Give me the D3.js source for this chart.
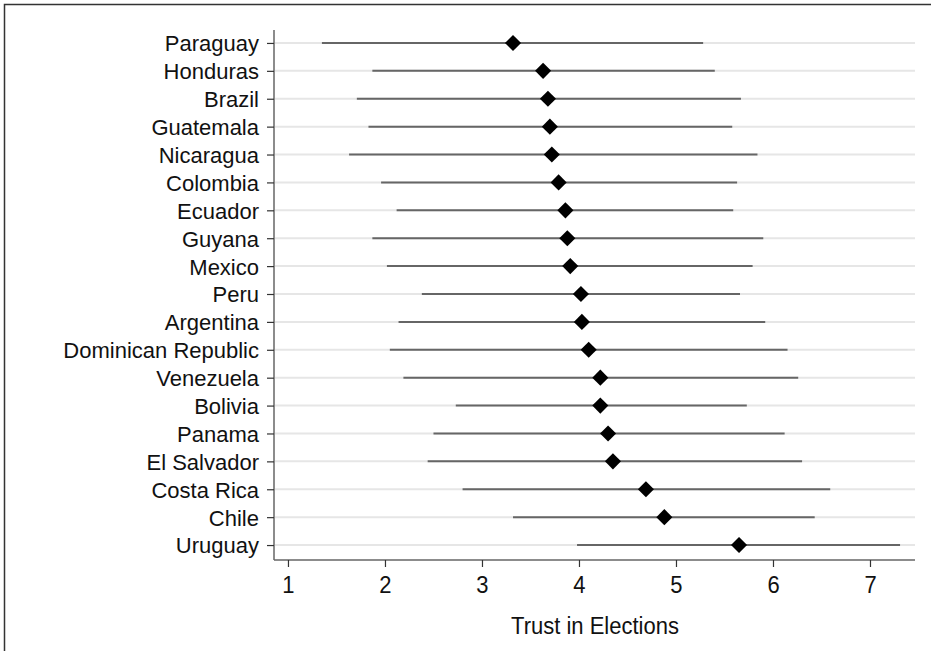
<!DOCTYPE html>
<html>
<head>
<meta charset="utf-8">
<script src="https://cdn.jsdelivr.net/npm/d3@7"></script>
<style>
  html, body { margin: 0; padding: 0; background: #fff; }
  svg { display: block; }
  text { font-family: "Liberation Sans", Arial, sans-serif; fill: #111; }
</style>
</head>
<body>
<script>
const countries = ["Paraguay","Honduras","Brazil","Guatemala","Nicaragua","Colombia","Ecuador","Guyana","Mexico","Peru","Argentina","Dominican Republic","Venezuela","Bolivia","Panama","El Salvador","Costa Rica","Chile","Uruguay"];
const means = [3.32,3.63,3.68,3.70,3.72,3.79,3.86,3.88,3.91,4.02,4.03,4.10,4.22,4.22,4.30,4.35,4.69,4.88,5.65];
const lower = [1.35,1.87,1.71,1.83,1.63,1.96,2.12,1.87,2.02,2.38,2.14,2.05,2.19,2.73,2.50,2.44,2.80,3.32,3.98];
const upper = [5.28,5.40,5.67,5.58,5.84,5.63,5.59,5.90,5.79,5.66,5.92,6.15,6.26,5.73,6.12,6.30,6.59,6.43,7.31];
const xTicks = [1,2,3,4,5,6,7];
const xTitle = "Trust in Elections";

const W = 931, H = 651;
const pL = 274, pR = 915, pT = 30, pB = 560;
const FS = 22;

const svg = d3.select("body").append("svg").attr("width", W).attr("height", H);

// outer frame (top & left visible)
svg.append("rect").attr("x", 4.5).attr("y", 4.5).attr("width", W + 10).attr("height", H + 10)
  .attr("fill", "none").attr("stroke", "#333").attr("stroke-width", 1.5);

const x = d3.scaleLinear().domain([0.856, 7.464]).range([pL, pR]);
const y = d3.scalePoint().domain(countries).range([pT - 1, pB - 1]).padding(0.5);

const rows = countries.map((c, i) => ({c, m: means[i], lo: lower[i], hi: upper[i]}));

// gridlines
svg.append("g").selectAll("line").data(rows).join("line")
  .attr("x1", pL + 1).attr("x2", pR)
  .attr("y1", d => y(d.c)).attr("y2", d => y(d.c))
  .attr("stroke", "#e6e6e6").attr("stroke-width", 2);

// range lines
svg.append("g").selectAll("line").data(rows).join("line")
  .attr("x1", d => x(d.lo)).attr("x2", d => x(d.hi))
  .attr("y1", d => y(d.c)).attr("y2", d => y(d.c))
  .attr("stroke", "#666").attr("stroke-width", 2);

// diamonds
const sym = d3.symbol().type(d3.symbolSquare).size(130);
svg.append("g").selectAll("path").data(rows).join("path")
  .attr("d", sym)
  .attr("transform", d => `translate(${x(d.m)},${y(d.c)}) rotate(45)`)
  .attr("fill", "#000");

// y axis
const yAxis = d3.axisLeft(y).tickSize(7).tickPadding(8);
const gy = svg.append("g").attr("transform", `translate(${pL},0)`).call(yAxis);
gy.select(".domain").attr("stroke", "#666").attr("stroke-width", 1.5).attr("d", `M0,${pT}V${pB}`);
gy.selectAll(".tick line").attr("stroke", "#333").attr("stroke-width", 1.2);
gy.selectAll(".tick text").attr("font-size", FS).attr("font-family", "Liberation Sans, Arial, sans-serif").attr("fill", "#111").attr("dy", "0.36em");

// x axis
const xAxis = d3.axisBottom(x).tickValues(xTicks).tickFormat(d3.format("d")).tickSize(7).tickPadding(8);
const gx = svg.append("g").attr("transform", `translate(0,${pB})`).call(xAxis);
gx.select(".domain").attr("stroke", "#666").attr("stroke-width", 1.5).attr("d", `M${pL},0H${pR}`);
gx.selectAll(".tick line").attr("stroke", "#333").attr("stroke-width", 1.2);
gx.selectAll(".tick text").attr("font-size", FS).attr("font-family", "Liberation Sans, Arial, sans-serif").attr("fill", "#111")
  .attr("y", 0).attr("dy", 0).attr("transform", "translate(0,593) scale(1,1.1)");
// place tick labels relative to axis group (593 - pB offset)
gx.selectAll(".tick text").attr("transform", `translate(0,${593 - pB}) scale(1,1.1)`);

// x title
svg.append("text").attr("transform", `translate(${(x(1) + x(7)) / 2 + 16},634) scale(1,1.1)`)
  .attr("text-anchor", "middle").attr("font-size", FS).text(xTitle);
</script>
</body>
</html>
